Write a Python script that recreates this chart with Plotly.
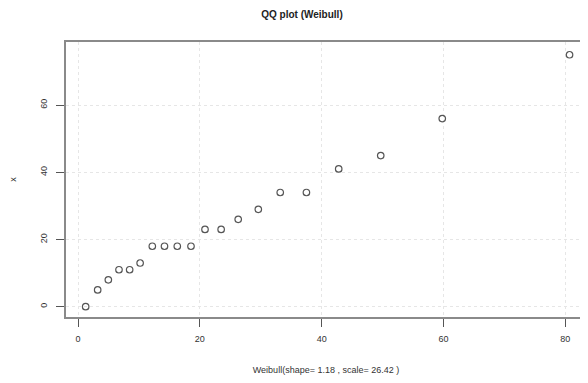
import plotly.graph_objects as go

weibull_quantiles = [1.26, 3.23, 4.98, 6.73, 8.48, 10.2, 12.2, 14.2, 16.3, 18.55,
                     20.85, 23.5, 26.3, 29.6, 33.2, 37.5, 42.8, 49.7, 59.8, 80.7]
sample_x = [0, 5, 8, 11, 11, 13, 18, 18, 18, 18,
            23, 23, 26, 29, 34, 34, 41, 45, 56, 75]
x_ticks = [0, 20, 40, 60, 80]
y_ticks = [0, 20, 40, 60]

fig = go.Figure()
fig.add_trace(go.Scatter(
    x=weibull_quantiles, y=sample_x, mode="markers",
    marker=dict(symbol="circle-open", size=6.5, color="#555", line=dict(width=1.2)),
    showlegend=False,
))

font = dict(family="Liberation Sans, Arial, sans-serif", size=9, color="#333")
fig.update_layout(
    width=588, height=383,
    margin=dict(l=58, r=10, t=34, b=74),
    paper_bgcolor="white", plot_bgcolor="white",
    font=font,
    title=dict(text="<b>QQ plot (Weibull)</b>", x=0.5, xanchor="center", y=0.982, yanchor="middle",
               font=dict(family="Liberation Sans, Arial, sans-serif", size=10, color="#222")),
)
fig.update_xaxes(
    automargin=False,
    range=[-1.97, 83.4], tickvals=x_ticks, ticktext=[str(v) for v in x_ticks],
    showgrid=True, gridcolor="#e6e6e6", griddash="dot", gridwidth=1,
    zeroline=False, showline=True, linecolor="#8a8a8a", linewidth=1.8, mirror=True,
    ticks="outside", ticklen=8, tickcolor="#555", ticklabelstandoff=4,
    title=dict(text="Weibull(shape= 1.18 , scale= 26.42 )", standoff=24, font=dict(size=9)),
)
fig.update_yaxes(
    automargin=False,
    range=[-3.07, 78.8], tickvals=y_ticks, ticktext=[str(v) for v in y_ticks],
    tickangle=-90,
    showgrid=True, gridcolor="#e6e6e6", griddash="dot", gridwidth=1,
    zeroline=False, showline=True, linecolor="#8a8a8a", linewidth=1.8, mirror=True,
    ticks="outside", ticklen=8, tickcolor="#555", ticklabelstandoff=6,
    title=dict(text="x", standoff=20, font=dict(size=9)),
)
fig.write_html("out.html")
